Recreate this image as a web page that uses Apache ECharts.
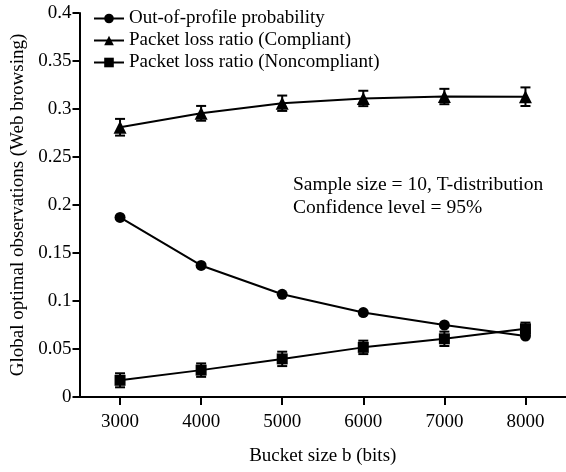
<!DOCTYPE html>
<html>
<head>
<meta charset="utf-8">
<title>Bucket size</title>
<script src="https://cdn.jsdelivr.net/npm/echarts@6/dist/echarts.min.js"></script>
<style>
html,body{margin:0;padding:0;background:#fff;}
#chart{width:566px;height:472px;}
</style>
</head>
<body>
<div id="chart"></div>
<script>
// data
var bucketSizes = [3000, 4000, 5000, 6000, 7000, 8000];
var xTicks = [3000, 4000, 5000, 6000, 7000, 8000];
var outOfProfile = [0.187, 0.137, 0.107, 0.088, 0.075, 0.0635];
var lossCompliant = [0.281, 0.2955, 0.306, 0.311, 0.313, 0.3128];
var errCompliant = [0.0087, 0.0077, 0.008, 0.008, 0.008, 0.0097];
var lossNoncompliant = [0.0174, 0.028, 0.0397, 0.0517, 0.0606, 0.071];
var errNoncompliant = [0.0073, 0.007, 0.0075, 0.007, 0.0075, 0.0065];

var FONT = '"Liberation Serif", "DejaVu Serif", serif';
var FS = 19;

function pairs(vals)
{
    return bucketSizes.map(function(x, i){ return [x, vals[i]]; });
}
function errRows(vals, errs)
{
    return bucketSizes.map(function(x, i){ return [x, vals[i] - errs[i], vals[i] + errs[i]]; });
}
// vertical error bar with caps
function drawErr(params, api)
{
    var lo = api.coord([api.value(0), api.value(1)]);
    var hi = api.coord([api.value(0), api.value(2)]);
    var w = 5;
    var st = {stroke: '#000', lineWidth: 2};
    return {
        type: 'group',
        children: [
            {type: 'line', shape: {x1: lo[0], y1: lo[1], x2: hi[0], y2: hi[1]}, style: st},
            {type: 'line', shape: {x1: lo[0] - w, y1: lo[1], x2: lo[0] + w, y2: lo[1]}, style: st},
            {type: 'line', shape: {x1: hi[0] - w, y1: hi[1], x2: hi[0] + w, y2: hi[1]}, style: st}
        ]
    };
}

var myChart = echarts.init(document.getElementById('chart'));
var option = {
    animation: false,
    textStyle: {fontFamily: FONT, color: '#000'},
    grid: {left: 79.5, right: 0, top: 13, bottom: 75},
    legend: {
        orient: 'vertical',
        left: 88,
        top: 4,
        itemWidth: 30,
        itemHeight: 12,
        itemGap: 3,
        textStyle: {fontFamily: FONT, fontSize: FS, color: '#000', lineHeight: 19},
        data: ['Out-of-profile probability', 'Packet loss ratio (Compliant)', 'Packet loss ratio (Noncompliant)']
    },
    xAxis: {
        type: 'value',
        min: 2500,
        max: 8500,
        name: 'Bucket size b (bits)',
        nameLocation: 'middle',
        nameGap: 50,
        nameTextStyle: {fontFamily: FONT, fontSize: FS, color: '#000'},
        axisLine: {lineStyle: {color: '#000', width: 2}},
        axisTick: {show: true, length: 8, lineStyle: {color: '#000', width: 2}, customValues: xTicks},
        axisLabel: {
            fontFamily: FONT, fontSize: FS, color: '#000', margin: 16, customValues: xTicks,
            formatter: function(v){ return String(v); }
        },
        splitLine: {show: false}
    },
    yAxis: {
        type: 'value',
        min: 0,
        max: 0.4,
        interval: 0.05,
        name: 'Global optimal observations (Web browsing)',
        nameLocation: 'middle',
        nameGap: 52,
        nameTextStyle: {fontFamily: FONT, fontSize: FS, color: '#000'},
        axisLine: {show: true, lineStyle: {color: '#000', width: 2}},
        axisTick: {show: true, length: 7, lineStyle: {color: '#000', width: 2}},
        axisLabel: {fontFamily: FONT, fontSize: FS, color: '#000', margin: 8},
        splitLine: {show: false}
    },
    graphic: [
        {type: 'text', left: 293, top: 175, style: {text: 'Sample size = 10, T-distribution', font: '19.5px ' + FONT, fill: '#000'}},
        {type: 'text', left: 293, top: 198, style: {text: 'Confidence level = 95%', font: '19.5px ' + FONT, fill: '#000'}}
    ],
    series: [
        {
            name: 'Out-of-profile probability',
            type: 'line',
            data: pairs(outOfProfile),
            symbol: 'circle',
            symbolSize: 11,
            itemStyle: {color: '#000'},
            lineStyle: {color: '#000', width: 2},
            z: 3
        },
        {
            name: 'Packet loss ratio (Compliant)',
            type: 'line',
            data: pairs(lossCompliant),
            symbol: 'triangle',
            symbolSize: 13,
            itemStyle: {color: '#000'},
            lineStyle: {color: '#000', width: 2},
            z: 3
        },
        {
            name: 'Packet loss ratio (Noncompliant)',
            type: 'line',
            data: pairs(lossNoncompliant),
            symbol: 'rect',
            symbolSize: 11,
            itemStyle: {color: '#000'},
            lineStyle: {color: '#000', width: 2},
            z: 3
        },
        {
            type: 'custom',
            renderItem: drawErr,
            data: errRows(lossCompliant, errCompliant),
            encode: {x: 0, y: [1, 2]},
            z: 2
        },
        {
            type: 'custom',
            renderItem: drawErr,
            data: errRows(lossNoncompliant, errNoncompliant),
            encode: {x: 0, y: [1, 2]},
            z: 2
        }
    ]
};
myChart.setOption(option);
</script>
</body>
</html>
